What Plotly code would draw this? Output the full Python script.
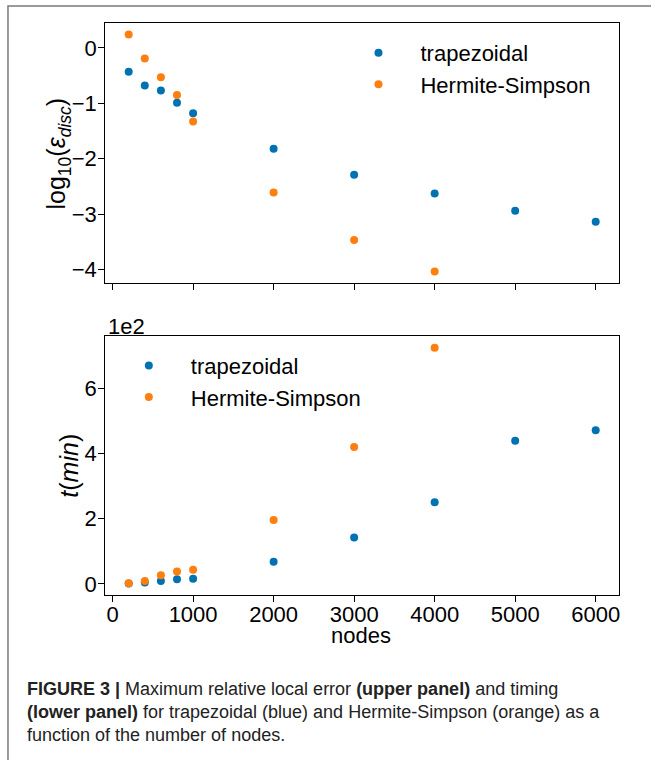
import plotly.graph_objects as go

# ---------------- data ----------------
nodes_trap = [200, 400, 600, 800, 1000, 2000, 3000, 4000, 5000, 6000]
nodes_hs = [200, 400, 600, 800, 1000, 2000, 3000, 4000]
log_err_trap = [-0.43, -0.68, -0.77, -0.99, -1.18, -1.82, -2.29, -2.63, -2.94, -3.14]
log_err_hs = [0.24, -0.19, -0.53, -0.85, -1.33, -2.61, -3.47, -4.04]
time_trap = [1, 4, 9, 14, 16, 68, 142, 250, 439, 471]   # minutes
time_hs = [2, 9, 26, 38, 43, 196, 420, 724]              # minutes

x_ticks = [0, 1000, 2000, 3000, 4000, 5000, 6000]
err_ticks = [0, -1, -2, -3, -4]
time_ticks = [0, 200, 400, 600]
time_ticklabels = ["0", "2", "4", "6"]

BLUE = "#0072B2"
ORANGE = "#FF7F0E"
W, H = 651, 760
FONT = "Liberation Sans, Arial, sans-serif"


def px(x):
    return x / W


def py(y):
    return 1 - y / H


fig = go.Figure()

mk = dict(size=8, line=dict(width=0))
fig.add_trace(go.Scatter(x=nodes_trap, y=log_err_trap, mode="markers", name="trapezoidal",
                         marker=dict(color=BLUE, **mk), xaxis="x", yaxis="y",
                         legend="legend", legendgroup="a"))
fig.add_trace(go.Scatter(x=nodes_hs, y=log_err_hs, mode="markers", name="Hermite-Simpson",
                         marker=dict(color=ORANGE, **mk), xaxis="x", yaxis="y",
                         legend="legend", legendgroup="b"))
fig.add_trace(go.Scatter(x=nodes_trap, y=time_trap, mode="markers", name="trapezoidal",
                         marker=dict(color=BLUE, **mk), xaxis="x2", yaxis="y2",
                         legend="legend2", legendgroup="c"))
fig.add_trace(go.Scatter(x=nodes_hs, y=time_hs, mode="markers", name="Hermite-Simpson",
                         marker=dict(color=ORANGE, **mk), xaxis="x2", yaxis="y2",
                         legend="legend2", legendgroup="d"))

axis_common = dict(showline=True, linecolor="black", linewidth=1.3, mirror=True,
                   ticks="outside", ticklen=6, tickwidth=1.2, tickcolor="black",
                   showgrid=False, zeroline=False,
                   tickfont=dict(family=FONT, size=22, color="black"))

xdom = [px(105.5), px(620)]
fig.update_layout(
    width=W, height=H,
    margin=dict(l=0, r=0, t=0, b=0),
    paper_bgcolor="white", plot_bgcolor="white",
    font=dict(family=FONT, size=22, color="black"),
    xaxis=dict(domain=xdom, anchor="y", range=[-90, 6290], tickvals=x_ticks,
               showticklabels=False, **axis_common),
    yaxis=dict(domain=[py(284), py(23)], anchor="x", range=[-4.25, 0.45],
               tickvals=err_ticks, ticklabelstandoff=-3, **axis_common),
    xaxis2=dict(domain=xdom, anchor="y2", range=[-90, 6290], tickvals=x_ticks,
                ticklabelstandoff=-6, **axis_common),
    yaxis2=dict(domain=[py(596.5), py(336.7)], anchor="x2", range=[-34, 761],
                tickvals=time_ticks, ticktext=time_ticklabels, ticklabelstandoff=-3,
                **axis_common),
    legend=dict(x=px(337), y=py(32), xanchor="left", yanchor="top",
                bgcolor="rgba(0,0,0,0)", itemwidth=74, tracegroupgap=0,
                font=dict(family=FONT, size=22, color="black")),
    legend2=dict(x=px(107), y=py(345.5), xanchor="left", yanchor="top",
                 bgcolor="rgba(0,0,0,0)", itemwidth=74, tracegroupgap=0,
                 font=dict(family=FONT, size=22, color="black")),
    showlegend=True,
)

CAP = dict(size=18, color="#222")
annotations = [
    dict(text="log<sub>10</sub>(<i>ε<sub>disc</sub></i>)", x=px(58), y=py(154),
         textangle=-90, font=dict(size=25)),
    dict(text="<i>t</i>(<i>min</i>)", x=px(69), y=py(467), textangle=-90,
         font=dict(size=25)),
    dict(text="1e2", x=px(106), y=py(327), xanchor="left", font=dict(size=22)),
    dict(text="nodes", x=px(362), y=py(637), font=dict(size=22)),
    dict(text="<b>FIGURE 3 |</b> Maximum relative local error <b>(upper panel)</b> and timing",
         x=px(25), y=py(691), xanchor="left", font=CAP),
    dict(text="<b>(lower panel)</b> for trapezoidal (blue) and Hermite-Simpson (orange) as a",
         x=px(25), y=py(714), xanchor="left", font=CAP),
    dict(text="function of the number of nodes.",
         x=px(25), y=py(737), xanchor="left", font=CAP),
]
for a in annotations:
    a.setdefault("xref", "paper")
    a.setdefault("yref", "paper")
    a.setdefault("showarrow", False)
    a.setdefault("yanchor", "middle")
    a.setdefault("xanchor", "center")
    fig.add_annotation(**a)

fig.add_shape(type="rect", xref="paper", yref="paper",
              x0=px(8), x1=1.2, y0=-0.2, y1=py(6),
              line=dict(color="#7a7a7a", width=1.5), fillcolor="rgba(0,0,0,0)",
              layer="below")

fig.write_html("out.html")
